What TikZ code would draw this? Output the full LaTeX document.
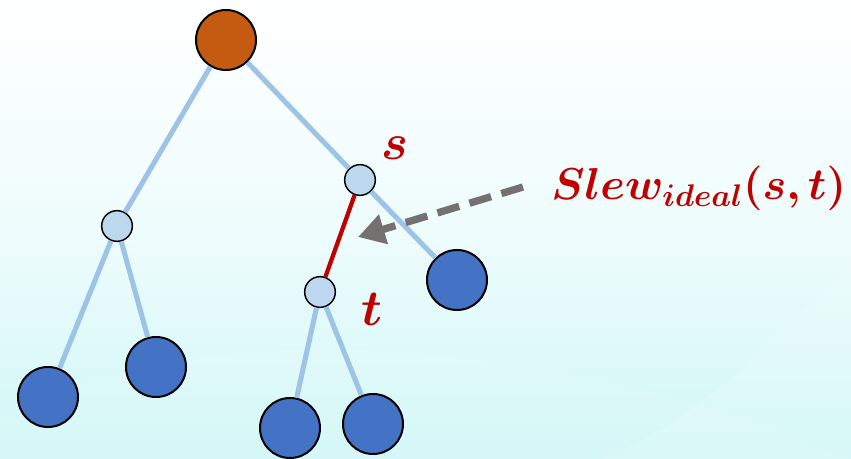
\RequirePackage{fix-cm}
\documentclass[tikz,border=0pt]{standalone}
\usepackage{bm}
\usetikzlibrary{arrows.meta}
\definecolor{rootorange}{HTML}{C55A11}
\definecolor{leafblue}{HTML}{4472C4}
\definecolor{innerblue}{HTML}{BDD7EE}
\definecolor{wireblue}{HTML}{9DC3E6}
\definecolor{slewred}{HTML}{C00000}
\definecolor{arrowgray}{HTML}{767171}
\definecolor{bgcyan}{HTML}{D0F7F7}
\definecolor{bgmid}{HTML}{EEFCFC}
\tikzset{
    rootnode/.style={circle,draw=black,line width=1.5pt,fill=rootorange,minimum size=45pt,inner sep=0pt},
    innernode/.style={circle,draw=black,line width=1.1pt,fill=innerblue,minimum size=23pt,inner sep=0pt},
    leafnode/.style={circle,draw=black,line width=1.5pt,fill=leafblue,minimum size=45pt,inner sep=0pt},
    wire/.style={wireblue,line width=3.8pt},
    critwire/.style={slewred,line width=3.2pt},
    slewarrow/.style={arrowgray,line width=5.5pt,dash pattern=on 17pt off 8pt,
        -{Triangle[length=20pt,width=22pt]}},
    lbl/.style={text=slewred,font=\fontsize{38}{44}\selectfont},
    slewlbl/.style={text=slewred,font=\fontsize{33.5}{40}\selectfont}
}
\begin{document}
\begin{tikzpicture}[x=0.75pt,y=-0.75pt]
    % background
    \useasboundingbox (0,0) rectangle (851,459);
    \shade[top color=white,bottom color=bgmid] (0,0) rectangle (851,230);
    \shade[top color=bgmid,bottom color=bgcyan] (0,230) rectangle (851,459);
    \fill[white,opacity=0.15] (600,459) .. controls (700,420) and (790,330) .. (851,260) -- (851,459) -- cycle;
    \fill[white,opacity=0.1] (0,420) .. controls (150,340) and (350,330) .. (600,380)
        .. controls (700,400) and (800,440) .. (851,459) -- (0,459) -- cycle;
    % nodes
    \node[rootnode] (root) at (226,40) {};
    \node[innernode] (a) at (117,226) {};
    \node[innernode] (s) at (360,180) {};
    \node[innernode] (t) at (320,292) {};
    \node[leafnode] (a1) at (48,397) {};
    \node[leafnode] (a2) at (156,367) {};
    \node[leafnode] (s2) at (457,280) {};
    \node[leafnode] (t1) at (290,428) {};
    \node[leafnode] (t2) at (373,424) {};
    % wires
    \draw[wire] (root) -- (a);
    \draw[wire] (root) -- (s);
    \draw[wire] (a) -- (a1);
    \draw[wire] (a) -- (a2);
    \draw[wire] (s) -- (s2);
    \draw[wire] (t) -- (t1);
    \draw[wire] (t) -- (t2);
    \draw[critwire] (s) -- (t);
    % labels
    \node[lbl,anchor=base] (slab) at (395,160) {$\bm{s}$};
    \node[lbl,anchor=base] (tlab) at (372,326) {$\bm{t}$};
    \node[slewlbl,anchor=base west,inner sep=0pt] (slew) at (551,200) {$\bm{Slew_{ideal}(s,t)}$};
    % arrow
    \coordinate (tail) at (523,187);
    \coordinate (head) at (358,237);
    \draw[slewarrow] (tail) -- (head);
\end{tikzpicture}
\end{document}
